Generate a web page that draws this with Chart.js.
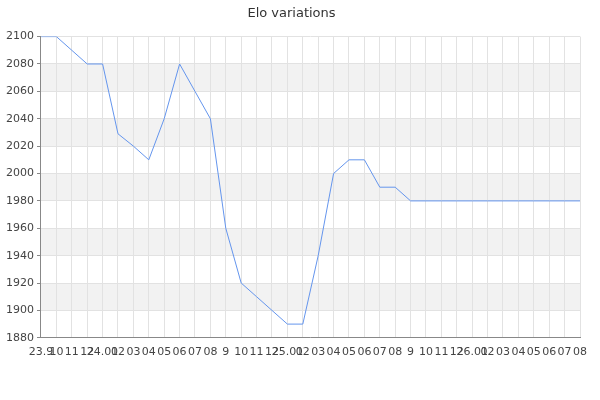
<!DOCTYPE html>
<html>
<head>
<meta charset="utf-8">
<script src="https://cdn.jsdelivr.net/npm/chart.js@4"></script>
<style>
  html, body { margin: 0; padding: 0; background: #fff; }
  #wrap { width: 600px; height: 400px; }
</style>
</head>
<body>
<div id="wrap"><canvas id="grafico"></canvas></div>
<script>
// mesi (etichette asse x)
const mesi = ["23.9", "10", "11", "12", "24.01", "02", "03", "04", "05", "06", "07", "08",
  "9", "10", "11", "12", "25.01", "02", "03", "04", "05", "06", "07", "08",
  "9", "10", "11", "12", "26.01", "02", "03", "04", "05", "06", "07", "08"];

// punteggio elo per ogni mese
const elo = [2100, 2100, 2090, 2080, 2080, 2029, 2020, 2010, 2040, 2080, 2060, 2040,
  1960, 1920, 1910, 1900, 1890, 1890, 1940, 2000, 2010, 2010, 1990, 1990,
  1980, 1980, 1980, 1980, 1980, 1980, 1980, 1980, 1980, 1980, 1980, 1980];

const yMin = 1880;
const yMax = 2100;

// fasce grigie alternate dietro al grafico
const fasce = {
  id: "fasce",
  beforeDraw(chart) {
    const { ctx, chartArea, scales } = chart;
    const y = scales.y;
    ctx.save();
    ctx.fillStyle = "#f2f2f2";
    let i = 0;
    for (let v = y.min; v < y.max; v += 20) {
      if (i % 2 === 1) {
        const top = y.getPixelForValue(Math.min(v + 20, y.max));
        const bottom = y.getPixelForValue(v);
        ctx.fillRect(chartArea.left, top, chartArea.right - chartArea.left, bottom - top);
      }
      i++;
    }
    ctx.restore();
  }
};

Chart.defaults.font.family = "'DejaVu Sans', sans-serif";
Chart.defaults.font.size = 11;
Chart.defaults.color = "#444";

new Chart(document.getElementById("grafico"), {
  type: "line",
  data: {
    labels: mesi,
    datasets: [{
      label: "Elo",
      data: elo,
      borderColor: "#6495ed",
      borderWidth: 1,
      pointRadius: 0,
      tension: 0,
      fill: false
    }]
  },
  options: {
    responsive: true,
    maintainAspectRatio: false,
    animation: false,
    layout: { padding: { left: 3, right: 20, top: 0, bottom: 33 } },
    plugins: {
      legend: { display: false },
      tooltip: { enabled: false },
      title: {
        display: true,
        text: "Elo variations",
        color: "#333",
        font: { size: 13, weight: "normal" },
        padding: { top: 6, bottom: 15 }
      }
    },
    scales: {
      x: {
        grid: { color: "#e2e2e2", drawTicks: false },
        border: { color: "#888" },
        ticks: { autoSkip: false, maxRotation: 0, minRotation: 0, padding: 8, color: "#444" }
      },
      y: {
        min: yMin,
        max: yMax,
        grid: {
          color: (c) => (c.tick && c.tick.value % 20 === 0 ? "#e2e2e2" : "rgba(0,0,0,0)"),
          tickColor: "#888",
          tickLength: 4
        },
        border: { color: "#888" },
        ticks: {
          stepSize: 10,
          padding: 3,
          color: "#444",
          callback: (v) => (v % 20 === 0 ? v : "")
        }
      }
    }
  },
  plugins: [fasce]
});
</script>
</body>
</html>
